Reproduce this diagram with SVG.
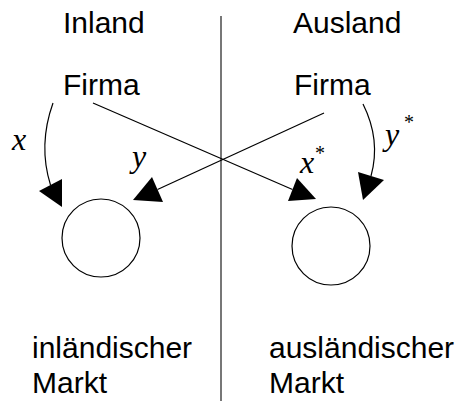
<svg xmlns="http://www.w3.org/2000/svg" width="457" height="401" viewBox="0 0 457 401">
<style>
.t{font-family:"Liberation Sans",Arial,sans-serif;font-size:30px;fill:#000}
.v{font-family:"Liberation Serif","Times New Roman",serif;font-style:italic;font-size:32px;fill:#000}
.s{font-family:"Liberation Serif","Times New Roman",serif;font-size:20px;fill:#000}
.ln{fill:none;stroke:#000;stroke-width:1.2}
.ah{fill:#000;stroke:none}
.mk{fill:#fff;stroke:#000;stroke-width:1.2}
</style>
<rect width="457" height="401" fill="#fff"/>
<line x1="221" y1="16" x2="221" y2="401" stroke="#555" stroke-width="1.6"/>
<g id="inland"><text class="t" x="63" y="33">Inland</text></g>
<g id="ausland"><text class="t" x="293" y="33">Ausland</text></g>
<g id="firma-in"><text class="t" x="63" y="95">Firma</text></g>
<g id="firma-aus"><text class="t" x="294" y="95">Firma</text></g>
<g id="markt-in"><circle class="mk" cx="101" cy="238" r="39"/><text class="t" x="32" y="358">inländischer</text><text class="t" x="32" y="393">Markt</text></g>
<g id="markt-aus"><circle class="mk" cx="331" cy="246" r="39"/><text class="t" x="269" y="358">ausländischer</text><text class="t" x="269" y="393">Markt</text></g>
<g id="connectors">
<path class="ln" d="M53,103 Q38,145 50.5,185"/>
<polygon class="ah" points="39,191 62,179 62,207"/>
<line class="ln" x1="93" y1="103" x2="292.5" y2="189.5"/>
<polygon class="ah" points="288,201 297,178 316,199"/>
<line class="ln" x1="324" y1="113" x2="157.5" y2="189.5"/>
<polygon class="ah" points="133,200 152,177 163,202"/>
<path class="ln" d="M363,104 Q381,140 371,176"/>
<polygon class="ah" points="358,172 384,180 363,200"/>
<text class="v" x="12" y="150">x</text>
<text class="v" x="132" y="167">y</text>
<text class="v" x="300" y="173">x</text><text class="s" x="315" y="160">*</text>
<text class="v" x="385" y="145">y</text><text class="s" x="404" y="129">*</text>
</g>
</svg>
